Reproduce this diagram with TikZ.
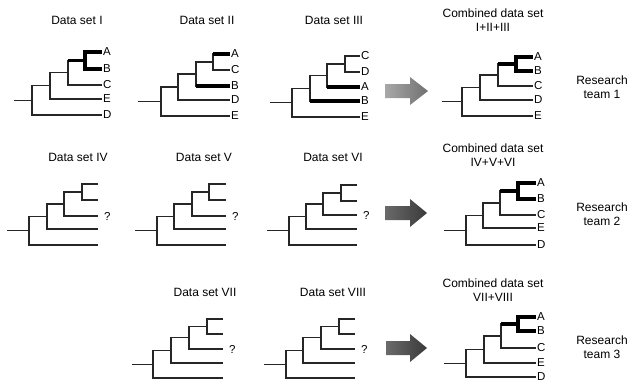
\documentclass[tikz,border=0pt]{standalone}
\usepackage{fontspec}
\setmainfont{Liberation Sans}
\makeatletter
\def\ptparsex#1,#2,#3,#4,#5,#6\relax{\def\ptXs{#1}\def\ptXr{#2}\def\ptXb{#3}\def\ptXc{#4}\def\ptXd{#5}\def\ptXt{#6}}
\def\ptparsey#1,#2,#3,#4,#5\relax{\def\ptYa{#1}\def\ptYb{#2}\def\ptYc{#3}\def\ptYd{#4}\def\ptYe{#5}}
\makeatother
\newcommand\phylo[3]{%
  \ptparsex#2\relax \ptparsey#3\relax
  \pgfmathsetmacro\ptNd{(\ptYa+\ptYb)/2}%
  \pgfmathsetmacro\ptNc{(\ptNd+\ptYc)/2}%
  \pgfmathsetmacro\ptNb{(\ptNc+\ptYd)/2}%
  \pgfmathsetmacro\ptNr{(\ptNb+\ptYe)/2}%
  \coordinate (#1-s) at (\ptXs,\ptNr);
  \coordinate (#1-r) at (\ptXr,\ptNr);
  \coordinate (#1-n2) at (\ptXb,\ptNb);
  \coordinate (#1-n3) at (\ptXc,\ptNc);
  \coordinate (#1-n4) at (\ptXd,\ptNd);
  \coordinate (#1-1) at (\ptXt,\ptYa);
  \coordinate (#1-2) at (\ptXt,\ptYb);
  \coordinate (#1-3) at (\ptXt,\ptYc);
  \coordinate (#1-4) at (\ptXt,\ptYd);
  \coordinate (#1-5) at (\ptXt,\ptYe);
  \draw[branch] (#1-s) -- (#1-r);
  \draw[branch] (#1-n2) -- (#1-r |- #1-n2) -- (#1-r |- #1-5) -- (#1-5);
  \draw[branch] (#1-n3) -- (#1-n2 |- #1-n3) -- (#1-n2 |- #1-4) -- (#1-4);
  \draw[branch] (#1-n4) -- (#1-n3 |- #1-n4) -- (#1-n3 |- #1-3) -- (#1-3);
  \draw[branch] (#1-1) -- (#1-n4 |- #1-1) -- (#1-n4 |- #1-2) -- (#1-2);
}
\newcommand\leaflabels[6]{%
  \node[leaf] (#1-L1) at (#1-1) {#2};
  \node[leaf] (#1-L2) at (#1-2) {#3};
  \node[leaf] (#1-L3) at (#1-3) {#4};
  \node[leaf] (#1-L4) at (#1-4) {#5};
  \node[leaf] (#1-L5) at (#1-5) {#6};
}
\newcommand\abthick[1]{%
  \draw[thk] (#1-1) -- (#1-n4 |- #1-1) -- (#1-n4 |- #1-2) -- (#1-2);
  \draw[thk] (#1-n3 |- #1-n4) -- (#1-n4);
}
\definecolor{arrAl}{HTML}{A8A8A8}
\definecolor{arrAr}{HTML}{707070}
\definecolor{arrBl}{HTML}{6A6A6A}
\definecolor{arrBr}{HTML}{3A3A3A}
\begin{document}
\begin{tikzpicture}[x=1pt,y=-1pt,
  branch/.style={line width=1.1pt, black!85},
  thk/.style={line width=3.6pt, black},
  leaf/.style={anchor=west, inner sep=1pt, font=\fontsize{11.5}{12}\selectfont},
  title/.style={font=\fontsize{12}{14}\selectfont, align=center, inner sep=0pt},
  qmark/.style={anchor=west, inner sep=0pt, font=\fontsize{11.5}{12}\selectfont}]
\useasboundingbox (0,0) rectangle (635,384);

% ---------- Row 1 ----------
\node[title] (t1) at (77,20) {Data set I};
\node[title] (t2) at (207,20) {Data set II};
\node[title] (t3) at (334,20) {Data set III};
\node[title] (tc1) at (493,20.5) {Combined data set\\I+II+III};
\node[title] (rt1) at (602,87) {Research\\team 1};

\phylo{A}{14,32,50,68,85,102}{52,69,85,99,115}
\abthick{A}
\leaflabels{A}{A}{B}{C}{E}{D}

\phylo{B}{138,161,178,196,213,230}{54,70,86,100,116}
\draw[thk] (B-n4 |- B-1) -- (B-1);
\draw[thk] (B-n3 |- B-3) -- (B-3);
\leaflabels{B}{A}{C}{B}{D}{E}

\phylo{C}{270,292,310,327,345,360}{56,72,87,101,117}
\draw[thk] (C-n3 |- C-3) -- (C-3);
\draw[thk] (C-n2 |- C-4) -- (C-4);
\leaflabels{C}{C}{D}{A}{B}{E}

\phylo{D}{442,462,480,498,516,533}{57,71,86,100,116}
\abthick{D}
\leaflabels{D}{A}{B}{C}{D}{E}

\shade[left color=arrAl, right color=arrAr]
  (385,84) -- (410,84) -- (410,77) -- (428,91) -- (410,105) -- (410,98) -- (385,98) -- cycle;

% ---------- Row 2 ----------
\node[title] (t4) at (78,157) {Data set IV};
\node[title] (t5) at (204,157) {Data set V};
\node[title] (t6) at (333,157) {Data set VI};
\node[title] (tc2) at (493,155.5) {Combined data set\\IV+V+VI};
\node[title] (rt2) at (602,214.5) {Research\\team 2};

\phylo{E}{7,29,47,64,82,98}{184,200,216,229,245}
\node[qmark] (E-q) at ([xshift=6pt]E-3) {?};
\phylo{F}{135,157,174,192,209,226}{184,200,216,229,245}
\node[qmark] (F-q) at ([xshift=6pt]F-3) {?};
\phylo{G}{267,289,306,323,341,357}{185,201,215,229,245}
\node[qmark] (G-q) at ([xshift=6pt]G-3) {?};

\phylo{H}{444,466,483,500,518,536}{183,199,215,228,245}
\abthick{H}
\leaflabels{H}{A}{B}{C}{E}{D}

\shade[left color=arrBl, right color=arrBr]
  (385,206) -- (410,206) -- (410,199) -- (427,213) -- (410,227) -- (410,220) -- (385,220) -- cycle;

% ---------- Row 3 ----------
\node[title] (t7) at (205,292) {Data set VII};
\node[title] (t8) at (333,292) {Data set VIII};
\node[title] (tc3) at (493,290) {Combined data set\\VII+VIII};
\node[title] (rt3) at (602,347) {Research\\team 3};

\phylo{I}{132,153,171,189,207,223}{319,334,349,363,378}
\node[qmark] (I-q) at ([xshift=6pt]I-3) {?};
\phylo{J}{264,286,303,321,339,355}{319,334,349,363,378}
\node[qmark] (J-q) at ([xshift=6pt]J-3) {?};

\phylo{K}{444,466,484,501,518,536}{317,331,348,363,377}
\abthick{K}
\leaflabels{K}{A}{B}{C}{E}{D}

\shade[left color=arrBl, right color=arrBr]
  (386,341) -- (410,341) -- (410,334) -- (427,348) -- (410,362) -- (410,355) -- (386,355) -- cycle;
\end{tikzpicture}
\end{document}
